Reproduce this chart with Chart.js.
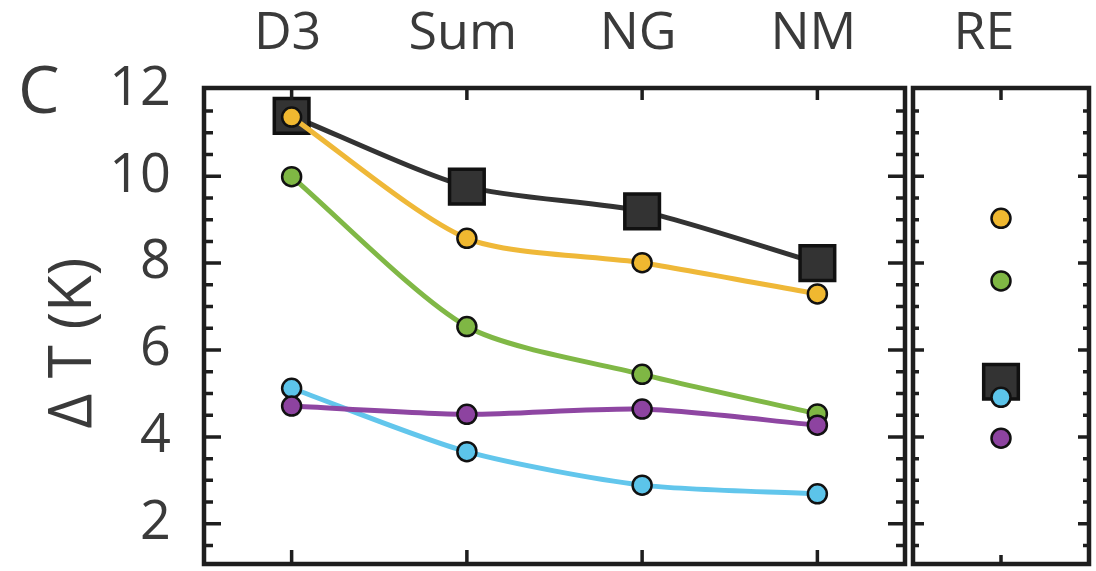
<!DOCTYPE html>
<html><head><meta charset="utf-8">
<script src="https://cdn.jsdelivr.net/npm/chart.js@4/dist/chart.umd.min.js"></script>
<style>
html,body{margin:0;padding:0;background:#fff;}
#wrap{position:relative;width:1096px;height:571px;overflow:hidden;background:#fff;}
canvas{position:absolute;top:0;}
#cA{left:0;} #cB{left:909px;}
</style></head><body>
<div id="wrap"><canvas id="cA" width="909" height="571"></canvas><canvas id="cB" width="187" height="571"></canvas></div>
<script>
// ---- data ----
const categories = ['D3', 'Sum', 'NG', 'NM'];
const reCategory = ['RE'];
const blackVals  = [11.39, 9.76, 9.19, 8.00];
const yellowVals = [11.36, 8.57, 8.01, 7.29];
const greenVals  = [9.99, 6.54, 5.44, 4.53];
const cyanVals   = [5.12, 3.66, 2.89, 2.69];
const purpleVals = [4.71, 4.52, 4.64, 4.27];
const blackRE  = [5.27];
const yellowRE = [9.03];
const greenRE  = [7.59];
const cyanRE   = [4.91];
const purpleRE = [3.97];
const yTickValues = [2, 4, 6, 8, 10, 12];
const yTitle = 'Δ T (K)';
const panelLabel = 'C';

// ---- styles ----
const FONT = "'Open Sans', 'DejaVu Sans', sans-serif";
const TXT = '#3a3a3a';
const INK = '#1e1e1e';
const YMIN = 1.075, YMAX = 12.03;
const series = [
  {name:'black',  vals: blackVals,  re: blackRE,  color:'#333333', fill:'#333333', shape:'rect',   order:5},
  {name:'green',  vals: greenVals,  re: greenRE,  color:'#80b846', fill:'#7fb744', shape:'circle', order:4},
  {name:'cyan',   vals: cyanVals,   re: cyanRE,   color:'#62c6ec', fill:'#5cc4ea', shape:'circle', order:3},
  {name:'purple', vals: purpleVals, re: purpleRE, color:'#8e46a2', fill:'#8d43a0', shape:'circle', order:2},
  {name:'yellow', vals: yellowVals, re: yellowRE, color:'#efb838', fill:'#f0b830', shape:'circle', order:1}
];

function mkDataset(s, data, showLine) {
  const isRect = s.shape === 'rect';
  return {
    label: s.name, data: data, order: s.order,
    showLine: showLine, borderColor: s.color, borderWidth: 5, tension: 0.25,
    pointStyle: s.shape, pointRadius: isRect ? 24.5 : 9.5, pointHoverRadius: isRect ? 24.5 : 9.5,
    pointBackgroundColor: s.fill, pointBorderColor: '#111111', pointBorderWidth: isRect ? 3.5 : 2.5,
    clip: false
  };
}

function framePlugin(opts) {
  return {
    id: 'frame',
    afterDraw(chart) {
      const ctx = chart.ctx, a = chart.chartArea;
      const ys = chart.scales.y, xs = chart.scales.x;
      ctx.save();
      ctx.strokeStyle = INK;
      ctx.lineCap = 'butt';
      ctx.lineWidth = 3.5;
      for (let v = 1.5; v <= 12.001; v += 0.5) {
        const y = ys.getPixelForValue(v);
        if (y < a.top + 3 || y > a.bottom - 3) continue;
        const major = Math.abs(v / 2 - Math.round(v / 2)) < 1e-6;
        const len = major ? opts.major : opts.minor;
        ctx.beginPath();
        ctx.moveTo(a.left, y); ctx.lineTo(a.left + len, y);
        ctx.moveTo(a.right, y); ctx.lineTo(a.right - len, y);
        ctx.stroke();
      }
      for (let i = 0; i < xs.ticks.length; i++) {
        const x = xs.getPixelForTick(i);
        ctx.beginPath();
        ctx.moveTo(x, a.top); ctx.lineTo(x, a.top + opts.xTop);
        ctx.moveTo(x, a.bottom); ctx.lineTo(x, a.bottom - opts.xBottom);
        ctx.stroke();
      }
      ctx.lineWidth = 4.5;
      ctx.strokeRect(a.left, a.top, a.right - a.left, a.bottom - a.top);
      if (opts.texts) {
        ctx.fillStyle = TXT;
        ctx.font = '66px ' + FONT;
        ctx.textAlign = 'left';
        ctx.textBaseline = 'alphabetic';
        ctx.fillText(panelLabel, 18, 113);
        ctx.save();
        ctx.translate(74, 343);
        ctx.rotate(-Math.PI / 2);
        ctx.font = '60px ' + FONT;
        ctx.textAlign = 'center';
        ctx.textBaseline = 'middle';
        ctx.fillText(yTitle, 0, 0);
        ctx.restore();
      }
      ctx.restore();
    }
  };
}

Chart.defaults.font.family = FONT;

const commonPlugins = { legend: { display: false }, tooltip: { enabled: false } };

new Chart(document.getElementById('cA'), {
  type: 'line',
  data: { labels: categories, datasets: series.map(s => mkDataset(s, s.vals, true)) },
  options: {
    responsive: false, animation: false, devicePixelRatio: 1,
    layout: { autoPadding: false, padding: { left: 0, right: 4, top: 0, bottom: 7 } },
    plugins: commonPlugins,
    scales: {
      x: {
        type: 'category', position: 'top', offset: true,
        grid: { display: false, drawTicks: false }, border: { display: false },
        ticks: { color: TXT, font: { size: 52, family: FONT }, padding: 23, labelOffset: -4, maxRotation: 0, autoSkip: false },
        afterFit(s) { s.height = 88; s.paddingLeft = 0; s.paddingRight = 0; }
      },
      y: {
        type: 'linear', position: 'left', min: YMIN, max: YMAX,
        grid: { display: false, drawTicks: false }, border: { display: false },
        afterBuildTicks(s) { s.ticks = yTickValues.map(v => ({ value: v })); },
        ticks: { color: TXT, font: { size: 54, family: FONT }, padding: 33 },
        afterFit(s) { s.width = 204; s.paddingTop = 0; s.paddingBottom = 0; }
      }
    }
  },
  plugins: [framePlugin({ minor: 9, major: 17, xTop: 12, xBottom: 14, texts: true })]
});

new Chart(document.getElementById('cB'), {
  type: 'line',
  data: { labels: reCategory, datasets: series.map(s => mkDataset(s, s.re, false)) },
  options: {
    responsive: false, animation: false, devicePixelRatio: 1,
    layout: { autoPadding: false, padding: { left: 4, right: 7, top: 0, bottom: 7 } },
    plugins: commonPlugins,
    scales: {
      x: {
        type: 'category', position: 'top', offset: true,
        grid: { display: false, drawTicks: false }, border: { display: false },
        ticks: { color: TXT, font: { size: 52, family: FONT }, padding: 23, labelOffset: -17, maxRotation: 0, autoSkip: false },
        afterFit(s) { s.height = 88; s.paddingLeft = 0; s.paddingRight = 0; }
      },
      y: {
        type: 'linear', display: false, min: YMIN, max: YMAX
      }
    }
  },
  plugins: [framePlugin({ minor: 6, major: 11, xTop: 12, xBottom: 9, texts: false })]
});
</script>
</body></html>
